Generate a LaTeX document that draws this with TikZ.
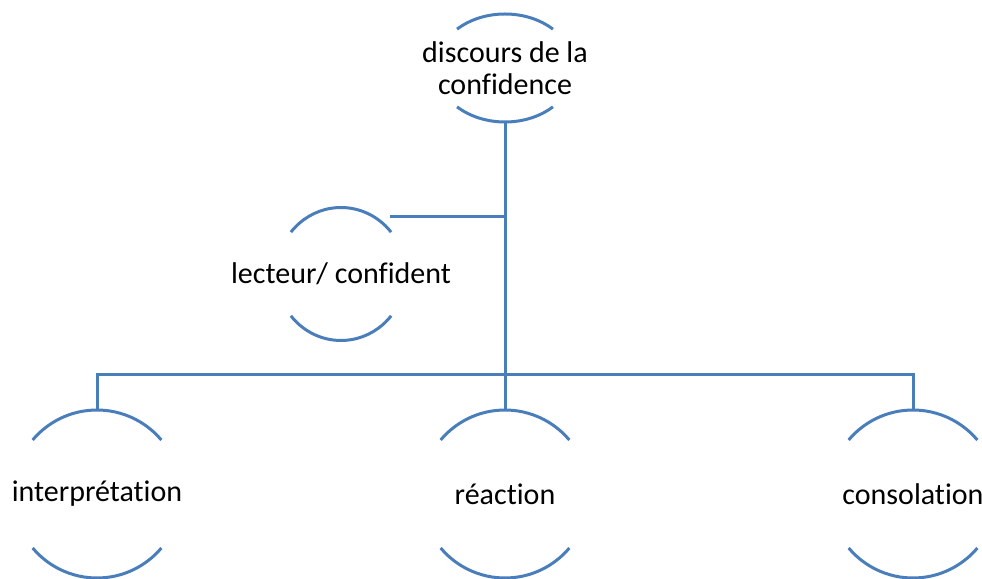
\documentclass[tikz,border=0pt]{standalone}
\usepackage{fontspec}
\setmainfont[Ligatures=NoCommon]{Carlito}
\definecolor{arcblue}{HTML}{4A7EBB}
\begin{document}
\begin{tikzpicture}[x=1pt,y=1pt,
  arcline/.style={draw=arcblue,line width=3pt},
  conn/.style={draw=arcblue,line width=3pt},
  lbl/.style={inner sep=0pt,align=center,font=\fontsize{30}{32}\selectfont}]
\useasboundingbox (0,0) rectangle (982,578);
% centres
\coordinate (cTop) at (505,510);
\coordinate (cLec) at (341,304);
\coordinate (cInt) at (97,84);
\coordinate (cRea) at (505,84);
\coordinate (cCon) at (913,84);
% labels
\node[lbl] (top) at (cTop) {discours de la\\confidence};
\node[lbl] (lec) at (cLec) {lecteur/ confident};
\node[lbl] (int) at (cInt) {interprétation};
\node[lbl] (rea) at (cRea) {réaction};
\node[lbl] (con) at (cCon) {consolation};
% arcs
\draw[arcline] ([shift={(46:69 and 54)}]cTop) arc[start angle=46,end angle=134,x radius=69,y radius=54];
\draw[arcline] ([shift={(226:69 and 54)}]cTop) arc[start angle=226,end angle=314,x radius=69,y radius=54];
\draw[arcline] ([shift={(39:64.5 and 66.5)}]cLec) arc[start angle=39,end angle=141,x radius=64.5,y radius=66.5];
\draw[arcline] ([shift={(219:64.5 and 66.5)}]cLec) arc[start angle=219,end angle=321,x radius=64.5,y radius=66.5];
\foreach \c in {cInt,cRea,cCon}{
  \draw[arcline] ([shift={(40:84)}]\c) arc[start angle=40,end angle=140,radius=84];
  \draw[arcline] ([shift={(220:84)}]\c) arc[start angle=220,end angle=320,radius=84];
}
% connector anchors
\coordinate (topB) at (505,456);
\coordinate (lecR) at (390,361);
\coordinate (lecJ) at (505,361);
\coordinate (barJ) at (505,203);
\coordinate (intT) at (97,168);
\coordinate (reaT) at (505,168);
\coordinate (conT) at (913,168);
% connectors
\draw[conn] (topB) -- (reaT);
\draw[conn] (lecR) -- (lecJ);
\draw[conn] (intT) |- (barJ) -| (conT);
\end{tikzpicture}
\end{document}
